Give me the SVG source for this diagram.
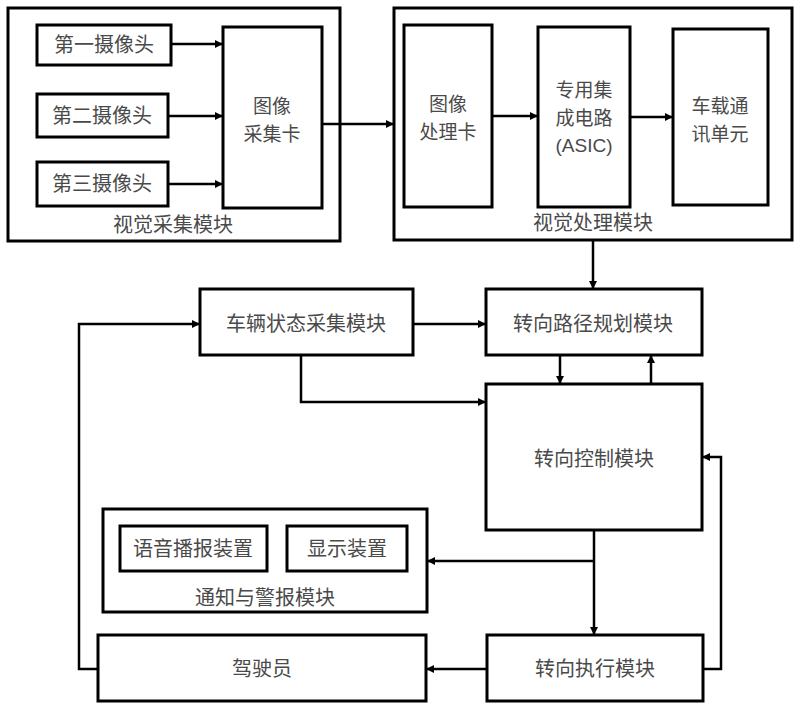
<svg xmlns="http://www.w3.org/2000/svg" width="800" height="711" viewBox="0 0 800 711">
<style>
.box{fill:#fff;stroke:#000;stroke-width:3}
.grp{fill:none;stroke:#000;stroke-width:3}
.t{font-family:"Noto Sans CJK SC","Liberation Sans",sans-serif;font-size:20px;fill:#4a4a4a;text-anchor:middle}
.m{font-size:19px}
.a{font-family:"Liberation Sans","Noto Sans CJK SC",sans-serif}
.c{fill:none;stroke:#000;stroke-width:2.5;marker-end:url(#ah)}
</style>
<defs>
<marker id="ah" markerUnits="userSpaceOnUse" markerWidth="9" markerHeight="9" refX="8" refY="4" orient="auto">
<path d="M0,0 L8,4 L0,8 z" fill="#000"/>
</marker>
</defs>
<rect width="800" height="711" fill="#fff"/>
<g id="vision-capture">
<rect class="grp" x="8" y="8" width="332" height="233"/>
<text class="t" x="173" y="232">视觉采集模块</text>
</g>
<g id="cam1"><rect class="box" x="37" y="25" width="134" height="40"/><text class="t" x="104" y="52">第一摄像头</text></g>
<g id="cam2"><rect class="box" x="37" y="94" width="131" height="43"/><text class="t" x="102" y="123">第二摄像头</text></g>
<g id="cam3"><rect class="box" x="37" y="162" width="131" height="44"/><text class="t" x="102" y="191">第三摄像头</text></g>
<g id="capture-card"><rect class="box" x="223" y="27" width="99" height="181"/><text class="t m" x="272" y="113">图像<tspan x="272" dy="28">采集卡</tspan></text></g>
<g id="vision-process">
<rect class="grp" x="394" y="8" width="398" height="232"/>
<text class="t" x="593" y="230">视觉处理模块</text>
</g>
<g id="process-card"><rect class="box" x="404" y="25" width="88" height="182"/><text class="t m" x="448" y="111">图像<tspan x="448" dy="28">处理卡</tspan></text></g>
<g id="asic"><rect class="box" x="538" y="27" width="92" height="180"/><text class="t m" x="584" y="97">专用集<tspan x="584" dy="28">成电路</tspan><tspan class="a" x="584" dy="27">(ASIC)</tspan></text></g>
<g id="comm"><rect class="box" x="673" y="29" width="95" height="176"/><text class="t m" x="720" y="113">车载通<tspan x="720" dy="28">讯单元</tspan></text></g>
<g id="vehicle-state"><rect class="box" x="200" y="289" width="213" height="66"/><text class="t" x="306" y="331">车辆状态采集模块</text></g>
<g id="path-plan"><rect class="box" x="486" y="289" width="216" height="66"/><text class="t" x="593" y="331">转向路径规划模块</text></g>
<g id="steer-control"><rect class="box" x="486" y="384" width="216" height="146"/><text class="t" x="594" y="466">转向控制模块</text></g>
<g id="notify">
<rect class="grp" x="103" y="509" width="324" height="103"/>
<text class="t" x="265" y="605">通知与警报模块</text>
</g>
<g id="voice"><rect class="box" x="120" y="526" width="147" height="45"/><text class="t" x="193" y="556">语音播报装置</text></g>
<g id="display"><rect class="box" x="287" y="526" width="120" height="45"/><text class="t" x="347" y="556">显示装置</text></g>
<g id="driver"><rect class="box" x="98" y="635" width="328" height="66"/><text class="t" x="262" y="676">驾驶员</text></g>
<g id="steer-exec"><rect class="box" x="487" y="635" width="216" height="66"/><text class="t" x="595" y="676">转向执行模块</text></g>
<g id="connectors">
<path class="c" d="M171,44 L223,44"/>
<path class="c" d="M168,116 L223,116"/>
<path class="c" d="M168,184 L223,184"/>
<path class="c" d="M322,124 L394,124"/>
<path class="c" d="M492,116 L538,116"/>
<path class="c" d="M630,117 L673,117"/>
<path class="c" d="M593,241 L593,289"/>
<path class="c" d="M413,324 L486,324"/>
<path class="c" d="M301,355 L301,402 L486,402"/>
<path class="c" d="M560,355 L560,384"/>
<path class="c" d="M651,384 L651,355"/>
<path class="c" d="M594,530 L594,635"/>
<path class="c" d="M594,561 L427,561"/>
<path class="c" d="M487,669 L426,669"/>
<path class="c" d="M98,669 L79,669 L79,324 L200,324"/>
<path class="c" d="M703,669 L721,669 L721,457 L702,457"/>
</g>
</svg>
